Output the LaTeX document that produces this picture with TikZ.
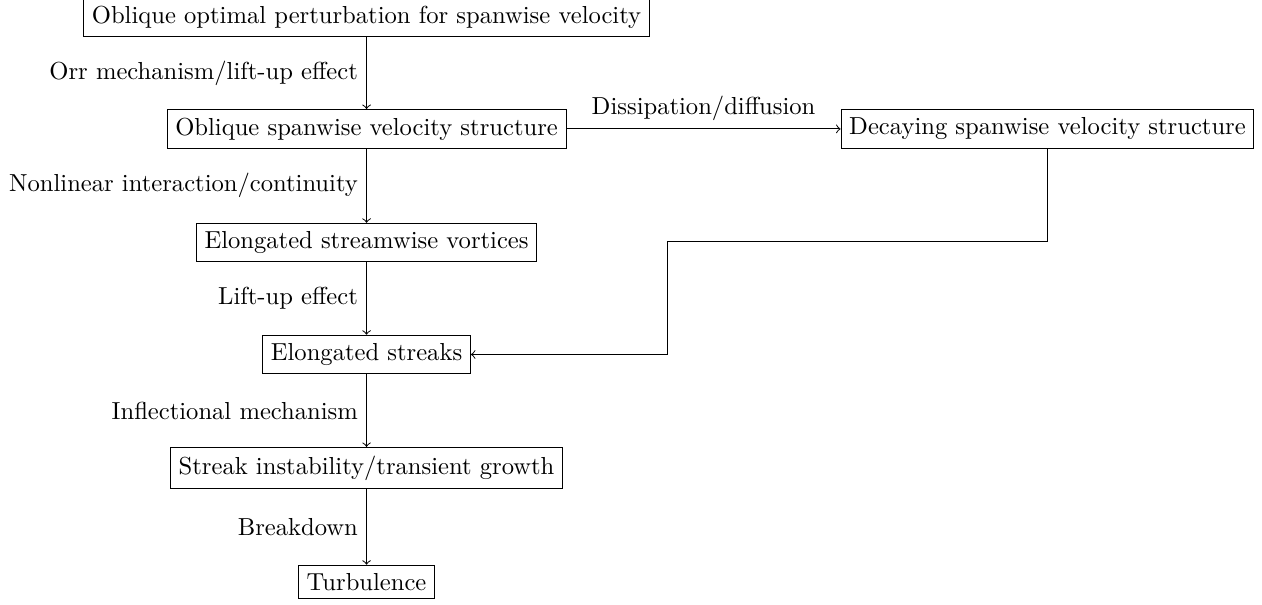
\documentclass[tikz,border=0pt]{standalone}
\begin{document}
\begin{tikzpicture}[x=1pt,y=1pt,
  box/.style={draw, rectangle, inner sep=3.33pt},
  flow/.style={->}]
\useasboundingbox (0,0) rectangle (513,-245.9);
\node[box] (n1) at (149,-7.1) {Oblique optimal perturbation for spanwise velocity};
\node[box] (n2) at (149,-52.4) {Oblique spanwise velocity structure};
\node[box] (n3) at (425.8,-52.4) {Decaying spanwise velocity structure};
\node[box] (n4) at (149,-98.6) {Elongated streamwise vortices};
\node[box] (n5) at (149,-144.1) {Elongated streaks};
\node[box] (n6) at (149,-190.2) {Streak instability/transient growth};
\node[box] (n7) at (149,-236.6) {Turbulence};
\coordinate (b2) at (271.5,-98);
\draw[flow] (n1) -- node[left] {Orr mechanism/lift-up effect} (n2);
\draw[flow] (n2) -- node[above] {Dissipation/diffusion} (n3);
\draw[flow] (n2) -- node[left] {Nonlinear interaction/continuity} (n4);
\draw[flow] (n4) -- node[left] {Lift-up effect} (n5);
\draw[flow] (n5) -- node[left] {Inflectional mechanism} (n6);
\draw[flow] (n6) -- node[left] {Breakdown} (n7);
\draw[flow] (n3.south) |- (b2) |- (n5.east);
\end{tikzpicture}
\end{document}
